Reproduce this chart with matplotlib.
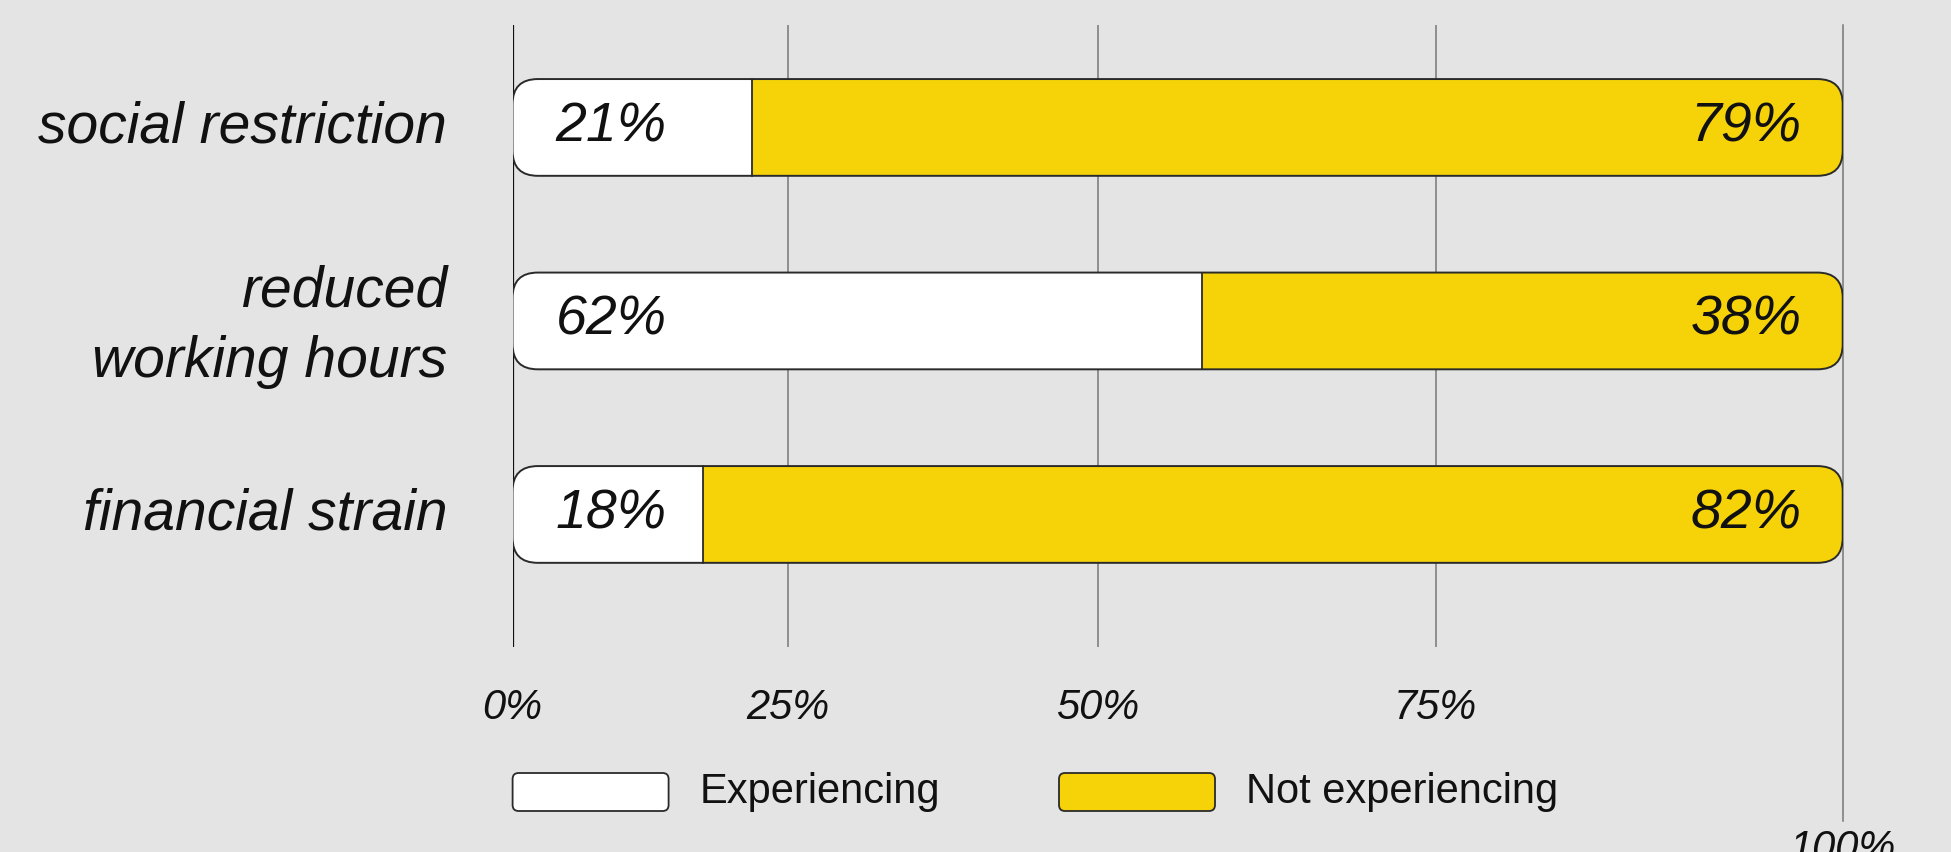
import matplotlib
matplotlib.use("Agg")
import matplotlib.pyplot as plt
from matplotlib.patches import FancyBboxPatch, Rectangle
from matplotlib import transforms

### DATA ###
categories = ["social restriction", "reduced\nworking hours", "financial strain"]
experiencing = [21, 62, 18]
not_experiencing = [79, 38, 82]
# where the white part ends, as drawn in the source chart (axis units)
split_drawn = [18.0, 51.8, 14.3]
tick_pos = [0, 20.7, 44.0, 69.4, 100]
tick_labels = ["0%", "25%", "50%", "75%", "100%"]
series_names = ["Experiencing", "Not experiencing"]

### STYLE ###
BG = "#e4e4e4"
YELLOW = "#f5d308"
EDGE = "#2a2a2a"
plt.rcParams['font.family'] = ['Liberation Sans', 'DejaVu Sans']

fig = plt.figure(figsize=(19.51, 8.52), dpi=100, facecolor=BG)
ax = fig.add_axes([0.2627, 0.2406, 0.6818, 0.7302])
ax.set_facecolor("none")
ax.set_xlim(0, 100)
ax.set_ylim(2.685, -0.530)
for s in ax.spines.values():
    s.set_visible(False)
ax.set_xticks([])
ax.set_yticks([])

# grid lines
for x in tick_pos:
    if x == 0:
        ax.axvline(x, color="#111111", lw=1.6, zorder=1)
    elif x == 100:
        ax.axvline(x, ymin=-0.28, ymax=1, color="#777777", lw=1.1,
                   zorder=1, clip_on=False)
    else:
        ax.axvline(x, color="#777777", lw=1.1, zorder=1)

blend = transforms.blended_transform_factory(ax.transData, ax.transAxes)
for x, lab in zip(tick_pos, tick_labels):
    y = -0.325 if x == 100 else -0.098
    ax.text(x, y, lab, transform=blend, ha="center", va="center",
            fontsize=30, style="italic", color="#111111")

# bars
bar_h = 0.5
rounding = 1.9
aspect = 0.0687
for i, cat in enumerate(categories):
    full = FancyBboxPatch((0, i - bar_h / 2), 100, bar_h,
                          boxstyle=f"round,pad=0,rounding_size={rounding}",
                          mutation_aspect=aspect, facecolor=YELLOW,
                          edgecolor="none", zorder=2)
    ax.add_patch(full)
    white = Rectangle((0, i - bar_h / 2), split_drawn[i], bar_h,
                      facecolor="white", edgecolor="none", zorder=2.5)
    ax.add_patch(white)
    white.set_clip_path(full)
    ax.plot([split_drawn[i]] * 2, [i - bar_h / 2, i + bar_h / 2],
            color=EDGE, lw=1.3, zorder=3)
    outline = FancyBboxPatch((0, i - bar_h / 2), 100, bar_h,
                             boxstyle=f"round,pad=0,rounding_size={rounding}",
                             mutation_aspect=aspect, facecolor="none",
                             edgecolor=EDGE, lw=1.4, zorder=3)
    ax.add_patch(outline)

    ax.text(11.6, i, f"{experiencing[i]}%", ha="right", va="center",
            fontsize=40, style="italic", color="#111111", zorder=4)
    ax.text(96.9, i, f"{not_experiencing[i]}%", ha="right", va="center",
            fontsize=40, style="italic", color="#111111", zorder=4)
    # two-line labels sit a touch lower in the original
    dy = 0.03 if "\n" in cat else 0
    ax.text(-4.9, i + dy, cat, ha="right", va="center", fontsize=41,
            style="italic", color="#111111", linespacing=1.38)

# legend, drawn by hand
leg_boxes = [(5.126, "white"), (10.59, YELLOW)]
for (x0, col), name in zip(leg_boxes, series_names):
    box = FancyBboxPatch((x0, 0.41), 1.56, 0.38,
                         boxstyle="round,pad=0,rounding_size=0.06",
                         facecolor=col, edgecolor=EDGE, lw=1.3,
                         transform=fig.dpi_scale_trans)
    fig.add_artist(box)
    fig.text((x0 + 1.56 + 0.31) * 100 / 1951, 0.6 / 8.52, name,
             ha="left", va="center", fontsize=30, color="#111111")

fig.savefig("out.png", dpi=100, facecolor=BG)
